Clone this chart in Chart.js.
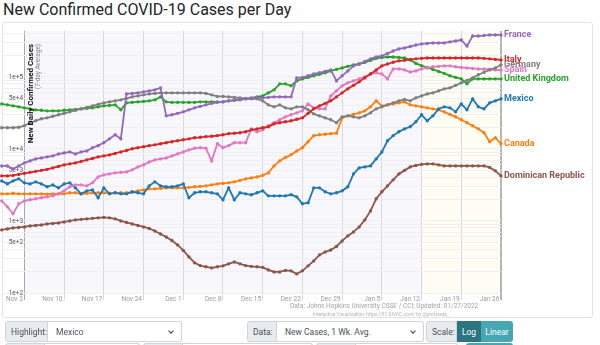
<!DOCTYPE html>
<html>
<head>
<meta charset="utf-8">
<title>New Confirmed COVID-19 Cases per Day</title>
<script src="https://cdn.jsdelivr.net/npm/chart.js@4/dist/chart.umd.min.js"></script>
<style>
  html, body { margin: 0; padding: 0; background: #fff; }
  body { width: 600px; height: 345px; position: relative; overflow: hidden; font-family: Roboto, "Noto Sans", sans-serif; }
  h1 { position: absolute; left: 3px; top: 1px; margin: 0; font-size: 16px; font-weight: 400; color: #212529; line-height: 18px; white-space: nowrap; }
  .panel { position: absolute; left: 2px; top: 22px; width: 591px; height: 296px; border: 1px solid #e4e4e4; border-radius: 3px; box-sizing: border-box; }
  #chartWrap { position: absolute; left: 0; top: 20px; width: 600px; height: 300px; }
  .source { position: absolute; left: 290px; top: 302px; font-size: 6.5px; color: #a3a3a3; white-space: nowrap; }
  .credit { position: absolute; left: 313px; top: 312px; font-size: 4.8px; color: #b3b3b3; white-space: nowrap; }
  .group { position: absolute; top: 321px; height: 21px; display: flex; font-size: 8.5px; color: #495057; box-sizing: border-box; }
  .group.low { top: 343px; }
  .lbl { background: #e9ecef; border: 1px solid #ced4da; border-radius: 3px 0 0 3px; padding: 0 5px; display: flex; align-items: center; box-sizing: border-box; }
  .sel { background: #fff; border: 1px solid #ced4da; border-left: none; border-radius: 0 3px 3px 0; padding: 0 8px; display: flex; align-items: center; justify-content: space-between; flex: 1; box-sizing: border-box; }
  .chev { width: 3px; height: 3px; border-right: 1px solid #444; border-bottom: 1px solid #444; transform: rotate(45deg); margin-top: -2px; }
  .btn { display: flex; align-items: center; justify-content: center; color: #fff; background: #44a7b3; box-sizing: border-box; }
  .btn.on { background: #2a7580; }
  .btn.last { border-radius: 0 3px 3px 0; }
</style>
</head>
<body>
<h1>New Confirmed COVID-19 Cases per Day</h1>
<div class="panel"></div>
<div id="chartWrap"><canvas id="covidChart" width="600" height="300"></canvas></div>
<div class="source">Data: Johns Hopkins University CSSE / CCI; Updated: 01/27/2022</div>
<div class="credit">Interactive Visualization: https://91-DIVOC.com/ by @profwade_</div>

<div class="group" style="left:5px;width:177px">
  <div class="lbl" style="width:43px">Highlight:</div>
  <div class="sel"><span>Mexico</span><i class="chev"></i></div>
</div>
<div class="group" style="left:247px;width:177px">
  <div class="lbl" style="width:30px">Data:</div>
  <div class="sel"><span>New Cases, 1 Wk. Avg.</span><i class="chev"></i></div>
</div>
<div class="group" style="left:426px;width:87px">
  <div class="lbl" style="width:31px">Scale:</div>
  <div class="btn on" style="width:24px">Log</div>
  <div class="btn last" style="width:32px">Linear</div>
</div>
<div class="group low" style="left:5px;width:135px"><div class="lbl" style="width:40px"></div><div class="sel"></div></div>
<div class="group low" style="left:143px;width:170px"><div class="lbl" style="width:40px"></div><div class="sel"></div></div>
<div class="group low" style="left:316px;width:142px"><div class="lbl" style="width:40px"></div><div class="sel"></div></div>
<div class="group low" style="left:466px;width:47px"><div class="btn last" style="width:47px;border-radius:3px"></div></div>

<script>
// Days are counted from Nov 3, 2021; the series start on Oct 30 (day -4)
const firstDay = -4;
const lastDay = 84;
const highlightFrom = 70; // Jan 12

const xTickLabels = ['Nov 3', 'Nov 10', 'Nov 17', 'Nov 24', 'Dec 1', 'Dec 8', 'Dec 15',
  'Dec 22', 'Dec 29', 'Jan 5', 'Jan 12', 'Jan 19', 'Jan 26'];

const yMin = 100;
const yMax = 435000;

const countries = ['France', 'Italy', 'Germany', 'Spain', 'United Kingdom', 'Mexico', 'Canada', 'Dominican Republic'];
const colors = ['#9467bd', '#d62728', '#7f7f7f', '#e377c2', '#2ca02c', '#1f77b4', '#ff7f0e', '#8c564b'];

const france = [5800, 5800, 5280, 5800, 6400, 6820, 7270, 7500, 7750, 8000, 8500, 8800, 9100, 8500, 9100, 9380,
  10400, 11100, 12200, 13800, 15700, 13800, 58100, 59000, 60000, 62000, 64000, 66100, 70500, 28800, 29800, 31200,
  32700, 34900, 37200, 39000, 40900, 42900, 44300, 45000, 46500, 48000, 48800, 49600, 50400, 51200, 51200, 52000,
  52800, 52800, 52800, 52800, 96900, 98400, 103500, 110000, 114000, 119000, 125000, 88000, 103500, 121000, 142000,
  151000, 164000, 178000, 189000, 195000, 212000, 229000, 244000, 252000, 264000, 277000, 287000, 291000, 296000,
  296000, 296000, 306000, 315000, 325000, 268000, 369000, 369000, 375000, 382000, 382000, 382000];

const italy = [4220, 4220, 4290, 4430, 4580, 4730, 4880, 5040, 5200, 5450, 5720, 6000, 6200, 6400, 6710, 7040,
  7380, 7750, 8000, 8260, 8660, 9080, 9530, 10050, 10400, 10700, 11100, 11400, 11800, 12200, 12600, 13000,
  13400, 13800, 14300, 14500, 14800, 15000, 15300, 15700, 16300, 16500, 16800, 17300, 18400, 19000, 19700, 20300,
  22300, 23100, 23800, 24600, 25800, 27000, 31200, 36000, 39600, 42900, 46500, 52800, 60000, 68200, 76300,
  85300, 96900, 110000, 125000, 142000, 151000, 160000, 167000, 170000, 175000, 178000, 181000, 183000, 183000,
  183000, 183000, 183000, 183000, 183000, 183000, 183000, 183000, 181000, 178000, 175000, 172000];

const germany = [19700, 19700, 19700, 20000, 21000, 23100, 24600, 26200, 27000, 28400, 29800, 31200, 32700, 34400,
  36000, 37800, 39600, 41600, 43600, 45000, 46500, 48000, 50400, 52800, 54500, 56300, 58100, 59000, 60000, 60000,
  60000, 60000, 60000, 60000, 60000, 60000, 59000, 56300, 53600, 53600, 52800, 52000, 51200, 50400, 49600, 49600,
  46500, 40900, 38400, 40900, 37200, 36000, 38400, 38400, 34900, 30700, 28800, 27000, 25400, 23100, 27900, 28800,
  27900, 27000, 28800, 31700, 36000, 38400, 40900, 43600, 46500, 48800, 46500, 51200, 54500, 58100, 60000, 64000,
  68200, 70500, 76300, 82600, 89600, 96900, 107000, 116000, 125000, 133000, 147000];

const spain = [1900, 1570, 1260, 1730, 1900, 1970, 2030, 2100, 2160, 2230, 2380, 2620, 2980, 3170, 3170, 3070,
  3380, 4090, 4360, 4500, 4650, 4730, 4800, 5120, 5630, 6000, 6600, 7040, 7270, 7500, 8000, 8530, 9080, 9700,
  10200, 10400, 10200, 6820, 11800, 10400, 11100, 12200, 12200, 12200, 19000, 17300, 18400, 21000, 23100, 25400,
  27900, 29800, 31700, 33800, 42200, 37200, 36000, 36000, 54500, 64000, 75100, 82600, 88000, 93800, 100000,
  110000, 114000, 110000, 93800, 129000, 129000, 125000, 117000, 121000, 129000, 133000, 138000, 140000, 142000,
  142000, 138000, 135000, 133000, 131000, 129000, 129000, 127000, 125000, 125000];

const unitedKingdom = [42200, 40900, 39600, 38400, 37200, 36000, 34900, 34400, 33800, 33800, 33800, 34400, 34900,
  35400, 36000, 36600, 37200, 38400, 39600, 40200, 40900, 34900, 43600, 44300, 45000, 45700, 46500, 48000, 52800,
  45000, 44300, 44300, 44300, 44300, 44300, 45000, 45000, 45000, 45000, 45000, 46500, 47300, 48000, 49600, 51200,
  52800, 54500, 60000, 66100, 80000, 80000, 75100, 88000, 93800, 98400, 103500, 109000, 114000, 121000, 127000,
  133000, 140000, 147000, 151000, 159000, 170000, 181000, 186000, 189000, 189000, 186000, 183000, 172000, 154000,
  143000, 135000, 127000, 119000, 112000, 103500, 98400, 93800, 80000, 93800, 93800, 93800, 93800, 93800, 93800];

const mexico = [3600, 3270, 3600, 3840, 3380, 3270, 3490, 3270, 2980, 3170, 2880, 3270, 3380, 2880, 2380, 2620,
  2700, 2100, 2880, 2380, 2460, 2380, 2380, 2540, 2460, 2380, 3070, 3490, 3070, 2980, 2980, 3070, 3270, 2100,
  2460, 2540, 2540, 2460, 2380, 1970, 2880, 1970, 2460, 2380, 2310, 2460, 2620, 2230, 2230, 2230, 2230, 2310,
  2160, 1730, 1790, 2880, 2880, 2540, 2380, 2460, 2620, 2980, 4500, 5450, 5630, 5810, 7270, 9080, 13000, 15300,
  17300, 19000, 20300, 23800, 29800, 24600, 28800, 36000, 38400, 37200, 32700, 42200, 34900, 49600, 38400, 36000,
  43600, 46500, 49600];

const canada = [2380, 2380, 2420, 2380, 2380, 2380, 2380, 2380, 2350, 2380, 2380, 2380, 2460, 2460, 2380, 2420,
  2460, 2460, 2460, 2420, 2460, 2460, 2460, 2500, 2620, 2700, 2790, 2790, 2830, 2880, 2880, 2880, 2880, 2930,
  2980, 3020, 3070, 3170, 3270, 3330, 3380, 3490, 3660, 3840, 3960, 4090, 4290, 4650, 5810, 6820, 7600, 8300,
  9380, 10400, 12600, 15300, 15700, 16000, 16300, 16500, 27000, 28800, 30200, 31700, 33800, 38400, 46500, 39600,
  40900, 42200, 43600, 45000, 40900, 39600, 38400, 37200, 36000, 34900, 32700, 30200, 27900, 25400, 23100, 21000,
  19000, 16800, 12600, 14300, 11800];

const dominicanRepublic = [751, 775, 800, 813, 826, 853, 867, 880, 909, 923, 938, 969, 1000, 1035, 1053, 1070,
  1088, 1105, 1123, 1105, 1070, 1000, 953, 909, 867, 826, 787, 727, 660, 600, 535, 465, 390, 317, 262, 240, 231,
  223, 231, 238, 254, 270, 254, 240, 234, 231, 227, 209, 196, 196, 206, 203, 184, 203, 238, 279, 338, 370, 396,
  443, 528, 620, 705, 826, 1035, 1380, 2030, 2540, 3070, 3720, 4500, 5040, 5630, 5900, 6100, 6200, 6200, 6000,
  5810, 5810, 5810, 5810, 5810, 5810, 5810, 5810, 5540, 4960, 4220];

const seriesValues = [france, italy, germany, spain, unitedKingdom, mexico, canada, dominicanRepublic];

const yTitle = 'New Daily Confirmed Cases';
const ySubtitle = '(7-day Average)';

Chart.defaults.font.family = 'Roboto, "Noto Sans", sans-serif';

const datasets = countries.map((name, k) => ({
  label: name,
  data: seriesValues[k].map((v, i) => ({ x: firstDay + i, y: v })),
  borderColor: colors[k],
  backgroundColor: colors[k],
  borderWidth: 1.8,
  pointRadius: 1.7,
  pointBorderWidth: 0,
  pointHoverRadius: 1.7,
  tension: 0,
  clip: false
}));

// light plot background and the shaded most recent weeks
const plotBackground = {
  id: 'plotBackground',
  beforeDraw(chart) {
    const { ctx, chartArea: a, scales: { x } } = chart;
    const x0 = x.getPixelForValue(0);
    const xh = x.getPixelForValue(highlightFrom);
    ctx.save();
    ctx.fillStyle = '#f8f8fc';
    ctx.fillRect(x0, a.top, a.right - x0, a.bottom - a.top);
    ctx.fillStyle = '#fdfdf4';
    ctx.fillRect(xh, a.top, a.right - xh, a.bottom - a.top);
    ctx.restore();
  }
};

// country names at the end of each line
const endLabels = {
  id: 'endLabels',
  afterDatasetsDraw(chart) {
    const ctx = chart.ctx;
    ctx.save();
    ctx.font = 'bold 9px Roboto, sans-serif';
    ctx.textBaseline = 'middle';
    ctx.textAlign = 'left';
    chart.data.datasets.forEach((ds, i) => {
      const pts = chart.getDatasetMeta(i).data;
      const last = pts[pts.length - 1];
      ctx.fillStyle = ds.borderColor;
      ctx.fillText(ds.label, last.x + 3, last.y);
    });
    ctx.restore();
  }
};

// rotated axis title sitting inside the plot
const axisTitle = {
  id: 'axisTitle',
  afterDatasetsDraw(chart) {
    const { ctx, chartArea: a } = chart;
    ctx.save();
    ctx.translate(31, a.top + 13);
    ctx.rotate(-Math.PI / 2);
    ctx.textAlign = 'right';
    ctx.textBaseline = 'middle';
    ctx.font = 'bold 8px Roboto, sans-serif';
    ctx.fillStyle = '#111';
    ctx.fillText(yTitle, 0, 0);
    ctx.font = '6.5px Roboto, sans-serif';
    ctx.fillStyle = '#888';
    ctx.fillText(ySubtitle, 0, 7.5);
    ctx.restore();
  }
};

function isLabelled(v) {
  const e = Math.floor(Math.log10(v) + 1e-9);
  const s = v / Math.pow(10, e);
  return Math.abs(s - 1) < 1e-6 || Math.abs(s - 5) < 1e-6;
}

new Chart(document.getElementById('covidChart'), {
  type: 'line',
  data: { datasets },
  options: {
    responsive: false,
    animation: false,
    events: [],
    layout: { padding: { left: 0, right: 99, top: 10, bottom: 7 } },
    plugins: {
      legend: { display: false },
      tooltip: { enabled: false }
    },
    scales: {
      x: {
        type: 'linear',
        min: firstDay,
        max: lastDay,
        afterBuildTicks: scale => { scale.ticks = xTickLabels.map((_, i) => ({ value: i * 7 })); },
        afterFit: scale => { scale.height = 20; },
        border: { display: false },
        grid: {
          color: c => c.tick.value === 0 ? '#a9a9a9' : (c.tick.value === lastDay ? '#b5b5b5' : '#d8d8dc'),
          lineWidth: c => c.tick.value === lastDay ? 2 : 1,
          tickLength: 7
        },
        ticks: {
          autoSkip: false,
          maxRotation: 0,
          align: 'end',
          padding: -5,
          color: '#9a9a9a',
          font: { size: 6.5 },
          callback: v => xTickLabels[Math.round(v / 7)] + ' '
        }
      },
      y: {
        type: 'logarithmic',
        min: yMin,
        max: yMax,
        afterBuildTicks: scale => {
          scale.ticks = scale.ticks.filter(t => {
            const e = Math.floor(Math.log10(t.value) + 1e-9);
            const s = t.value / Math.pow(10, e);
            return Math.abs(s - Math.round(s)) < 1e-6 && t.value < yMax;
          });
        },
        afterFit: scale => { scale.width = 0; },
        border: { display: false },
        grid: { color: '#f0f0f4', drawTicks: false },
        ticks: {
          mirror: true,
          padding: 7,
          autoSkip: false,
          color: '#555',
          font: { size: 6.5 },
          callback: v => isLabelled(v) ? Number(v).toExponential() : ''
        }
      }
    }
  },
  plugins: [plotBackground, endLabels, axisTitle]
});
</script>
</body>
</html>
